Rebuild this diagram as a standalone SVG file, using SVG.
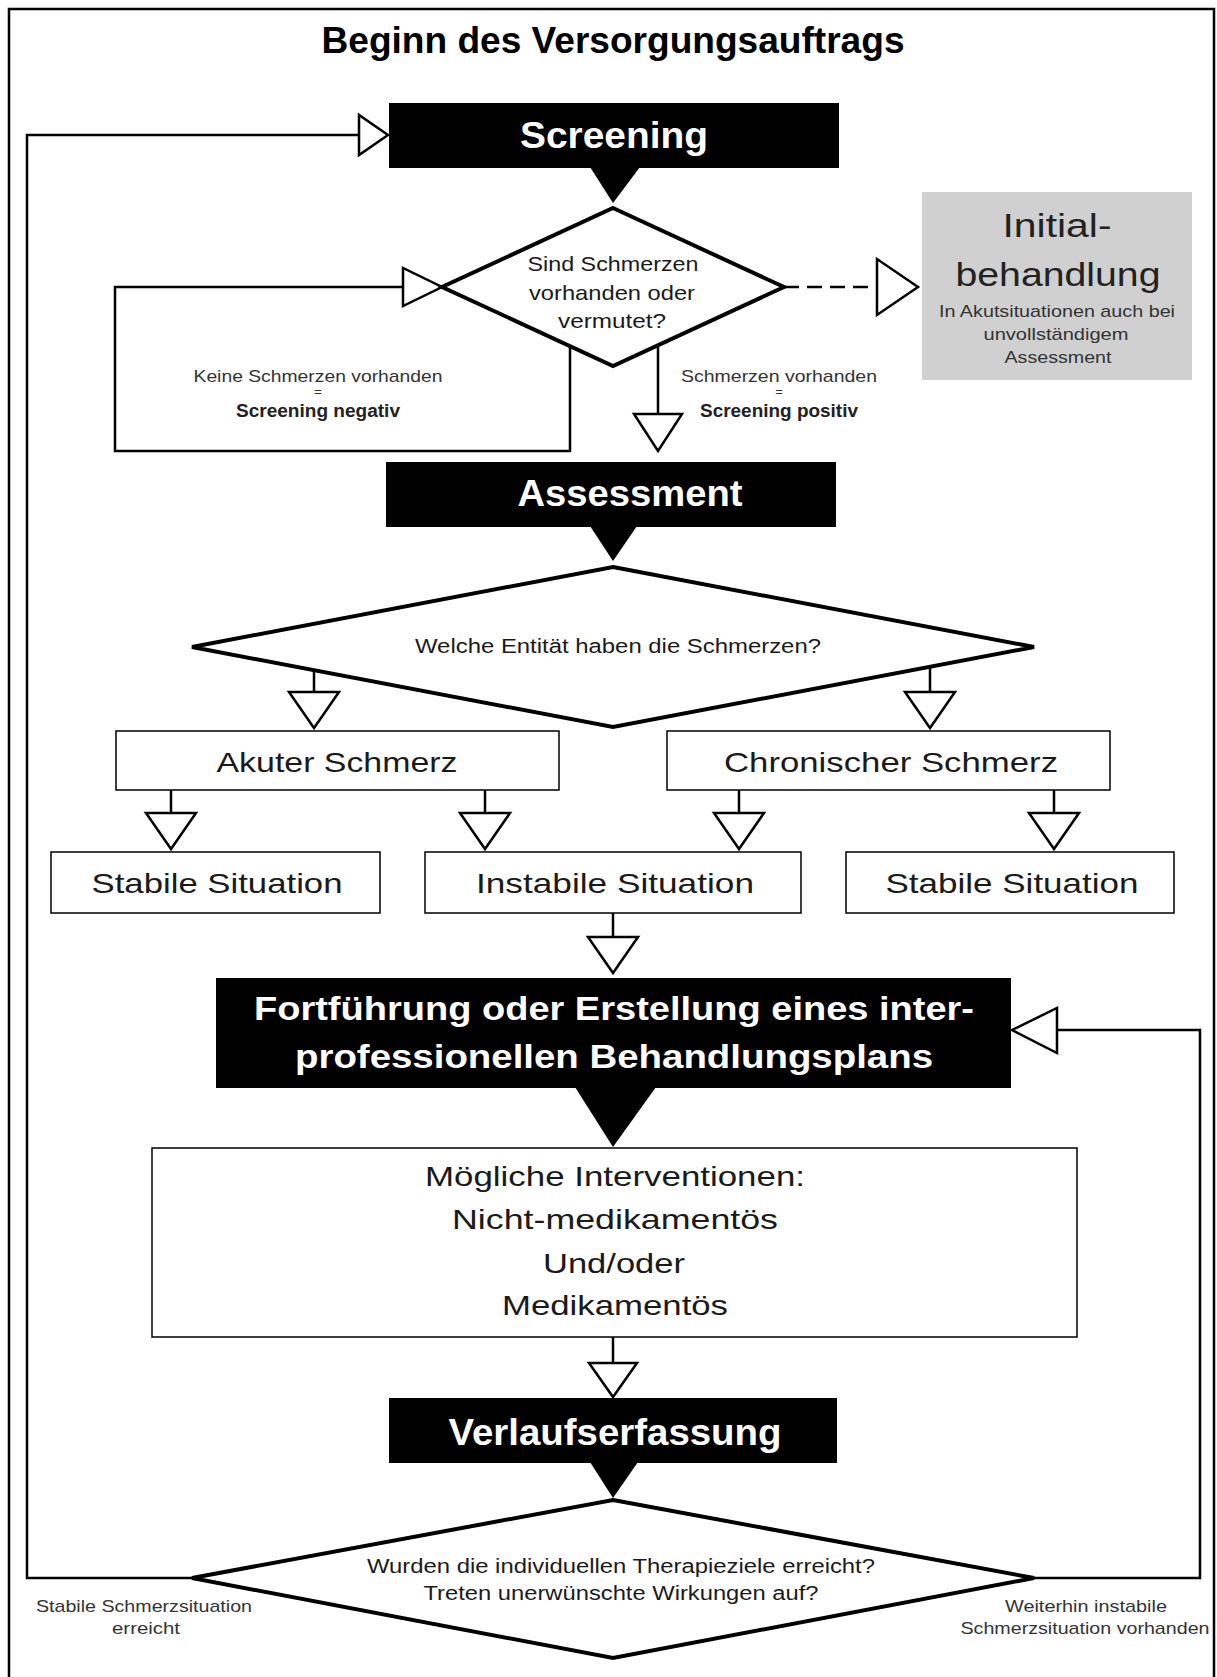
<svg xmlns="http://www.w3.org/2000/svg" width="1217" height="1677" viewBox="0 0 1217 1677">
<style>
.bg{fill:#fff}
.frame{fill:none;stroke:#000;stroke-width:2.5}
.blk{fill:#000}
.box{fill:#fff;stroke:#000;stroke-width:1.5}
.gray{fill:#d0d0d0}
.dia{fill:#fff;stroke:#000;stroke-width:4;stroke-linejoin:miter}
.ln{fill:none;stroke:#000;stroke-width:2.5}
.dash{fill:none;stroke:#000;stroke-width:2.5;stroke-dasharray:15 8}
.ah{fill:#fff;stroke:#000;stroke-width:2.5;stroke-linejoin:miter}
text{font-family:"Liberation Sans",Arial,sans-serif;text-anchor:middle}
.title{font-size:36px;font-weight:bold;fill:#000}
.hd{font-size:36px;font-weight:bold;fill:#fff}
.hd2{font-size:34px;font-weight:bold;fill:#fff}
.bt{font-size:28px;fill:#1a1a1a}
.dt{font-size:21px;fill:#1a1a1a}
.dt2{font-size:20px;fill:#1a1a1a}
.sm{font-size:17px;fill:#333}
.smb{font-size:18px;font-weight:bold;fill:#222}
.eq{font-size:13px;fill:#333}
.big{font-size:34px;fill:#222}
</style>
<rect class="bg" x="0" y="0" width="1217" height="1677"/>
<rect class="frame" x="9" y="9" width="1205" height="1680"/>
<text class="title" x="613" y="53" textLength="583" lengthAdjust="spacingAndGlyphs">Beginn des Versorgungsauftrags</text>

<g id="connectors">
  <!-- left loop back to Screening -->
  <polyline class="ln" points="192,1578 27,1578 27,135 359,135"/>
  <polygon class="ah" points="359,115 359,155 388,135"/>
  <!-- negative screening loop -->
  <polyline class="ln" points="570,346 570,451 115,451 115,287 403,287"/>
  <polygon class="ah" points="403,268 403,306 442,287"/>
  <!-- dashed to Initialbehandlung -->
  <line class="dash" x1="784" y1="287" x2="876" y2="287"/>
  <polygon class="ah" points="877,259 877,315 918,287"/>
  <!-- positive screening -->
  <line class="ln" x1="658" y1="345" x2="658" y2="414"/>
  <polygon class="ah" points="634,414 682,414 658,451"/>
  <!-- entity branches -->
  <line class="ln" x1="314" y1="670" x2="314" y2="692"/>
  <polygon class="ah" points="289,692 339,692 314,728"/>
  <line class="ln" x1="930" y1="667" x2="930" y2="692"/>
  <polygon class="ah" points="905,692 955,692 930,728"/>
  <!-- acute -->
  <line class="ln" x1="171" y1="790" x2="171" y2="813"/>
  <polygon class="ah" points="146,813 196,813 171,849"/>
  <line class="ln" x1="485" y1="790" x2="485" y2="813"/>
  <polygon class="ah" points="460,813 510,813 485,849"/>
  <!-- chronic -->
  <line class="ln" x1="739" y1="790" x2="739" y2="813"/>
  <polygon class="ah" points="714,813 764,813 739,849"/>
  <line class="ln" x1="1054" y1="790" x2="1054" y2="813"/>
  <polygon class="ah" points="1029,813 1079,813 1054,849"/>
  <!-- instabile to plan -->
  <line class="ln" x1="613" y1="913" x2="613" y2="937"/>
  <polygon class="ah" points="588,937 638,937 613,973"/>
  <!-- interventions to Verlauf -->
  <line class="ln" x1="613" y1="1337" x2="613" y2="1363"/>
  <polygon class="ah" points="589,1363 637,1363 613,1397"/>
  <!-- right loop back to plan -->
  <polyline class="ln" points="1034,1578 1200,1578 1200,1030 1057,1030"/>
  <polygon class="ah" points="1057,1008 1057,1053 1012,1030"/>
  <!-- solid pointers -->
  <polygon class="blk" points="590,167 640,167 613,203"/>
  <polygon class="blk" points="590,526 637,526 613,561"/>
  <polygon class="blk" points="575,1087 656,1087 613,1147"/>
  <polygon class="blk" points="590,1462 638,1462 613,1498"/>
</g>

<g id="screening">
  <rect class="blk" x="389" y="103" width="450" height="65"/>
  <text class="hd" x="614" y="148" textLength="188" lengthAdjust="spacingAndGlyphs">Screening</text>
</g>

<g id="decision-schmerzen">
  <polygon class="dia" points="613,208 784,287 613,366 442,287"/>
  <text class="dt" x="613" y="271" textLength="171" lengthAdjust="spacingAndGlyphs">Sind Schmerzen</text>
  <text class="dt" x="612" y="300" textLength="166" lengthAdjust="spacingAndGlyphs">vorhanden oder</text>
  <text class="dt" x="612" y="328" textLength="108" lengthAdjust="spacingAndGlyphs">vermutet?</text>
</g>

<g id="initialbehandlung">
  <rect class="gray" x="922" y="192" width="270" height="188"/>
  <text class="big" x="1057" y="237" textLength="109" lengthAdjust="spacingAndGlyphs">Initial-</text>
  <text class="big" x="1058" y="286" textLength="205" lengthAdjust="spacingAndGlyphs">behandlung</text>
  <text class="sm" x="1057" y="317" textLength="236" lengthAdjust="spacingAndGlyphs">In Akutsituationen auch bei</text>
  <text class="sm" x="1056" y="340" textLength="145" lengthAdjust="spacingAndGlyphs">unvollständigem</text>
  <text class="sm" x="1058" y="363" textLength="107" lengthAdjust="spacingAndGlyphs">Assessment</text>
</g>

<g id="label-negativ">
  <text class="sm" x="318" y="382" textLength="249" lengthAdjust="spacingAndGlyphs">Keine Schmerzen vorhanden</text>
  <text class="eq" x="318" y="396">=</text>
  <text class="smb" x="318" y="417" textLength="164" lengthAdjust="spacingAndGlyphs">Screening negativ</text>
</g>

<g id="label-positiv">
  <text class="sm" x="779" y="382" textLength="196" lengthAdjust="spacingAndGlyphs">Schmerzen vorhanden</text>
  <text class="eq" x="779" y="396">=</text>
  <text class="smb" x="779" y="417" textLength="158" lengthAdjust="spacingAndGlyphs">Screening positiv</text>
</g>

<g id="assessment">
  <rect class="blk" x="386" y="462" width="450" height="65"/>
  <text class="hd" x="630" y="506" textLength="225" lengthAdjust="spacingAndGlyphs">Assessment</text>
</g>

<g id="decision-entitaet">
  <polygon class="dia" points="613,567 1034,647 613,727 192,647"/>
  <text class="dt2" x="618" y="653" textLength="406" lengthAdjust="spacingAndGlyphs">Welche Entität haben die Schmerzen?</text>
</g>

<g id="akuter-schmerz">
  <rect class="box" x="116" y="731" width="443" height="59"/>
  <text class="bt" x="337" y="772" textLength="241" lengthAdjust="spacingAndGlyphs">Akuter Schmerz</text>
</g>

<g id="chronischer-schmerz">
  <rect class="box" x="667" y="731" width="443" height="59"/>
  <text class="bt" x="891" y="772" textLength="334" lengthAdjust="spacingAndGlyphs">Chronischer Schmerz</text>
</g>

<g id="stabil-links">
  <rect class="box" x="51" y="852" width="329" height="61"/>
  <text class="bt" x="217" y="893" textLength="251" lengthAdjust="spacingAndGlyphs">Stabile Situation</text>
</g>

<g id="instabil">
  <rect class="box" x="425" y="852" width="376" height="61"/>
  <text class="bt" x="615" y="893" textLength="278" lengthAdjust="spacingAndGlyphs">Instabile Situation</text>
</g>

<g id="stabil-rechts">
  <rect class="box" x="846" y="852" width="328" height="61"/>
  <text class="bt" x="1012" y="893" textLength="253" lengthAdjust="spacingAndGlyphs">Stabile Situation</text>
</g>

<g id="behandlungsplan">
  <rect class="blk" x="216" y="978" width="795" height="110"/>
  <text class="hd2" x="614" y="1020" textLength="720" lengthAdjust="spacingAndGlyphs">Fortführung oder Erstellung eines inter-</text>
  <text class="hd2" x="614" y="1068" textLength="638" lengthAdjust="spacingAndGlyphs">professionellen Behandlungsplans</text>
</g>

<g id="interventionen">
  <rect class="box" x="152" y="1148" width="925" height="189"/>
  <text class="bt" x="615" y="1186" textLength="380" lengthAdjust="spacingAndGlyphs">Mögliche Interventionen:</text>
  <text class="bt" x="615" y="1229" textLength="326" lengthAdjust="spacingAndGlyphs">Nicht-medikamentös</text>
  <text class="bt" x="614" y="1273" textLength="142" lengthAdjust="spacingAndGlyphs">Und/oder</text>
  <text class="bt" x="615" y="1315" textLength="226" lengthAdjust="spacingAndGlyphs">Medikamentös</text>
</g>

<g id="verlaufserfassung">
  <rect class="blk" x="389" y="1398" width="448" height="65"/>
  <text class="hd" x="615" y="1445" textLength="333" lengthAdjust="spacingAndGlyphs">Verlaufserfassung</text>
</g>

<g id="decision-ziele">
  <polygon class="dia" points="613,1500 1034,1578 613,1658 192,1578"/>
  <text class="dt2" x="621" y="1573" textLength="508" lengthAdjust="spacingAndGlyphs">Wurden die individuellen Therapieziele erreicht?</text>
  <text class="dt2" x="621" y="1600" textLength="395" lengthAdjust="spacingAndGlyphs">Treten unerwünschte Wirkungen auf?</text>
</g>

<g id="label-stabil">
  <text class="sm" x="144" y="1612" textLength="216" lengthAdjust="spacingAndGlyphs">Stabile Schmerzsituation</text>
  <text class="sm" x="146" y="1634" textLength="68" lengthAdjust="spacingAndGlyphs">erreicht</text>
</g>

<g id="label-instabil">
  <text class="sm" x="1086" y="1612" textLength="162" lengthAdjust="spacingAndGlyphs">Weiterhin instabile</text>
  <text class="sm" x="1085" y="1634" textLength="249" lengthAdjust="spacingAndGlyphs">Schmerzsituation vorhanden</text>
</g>
</svg>
